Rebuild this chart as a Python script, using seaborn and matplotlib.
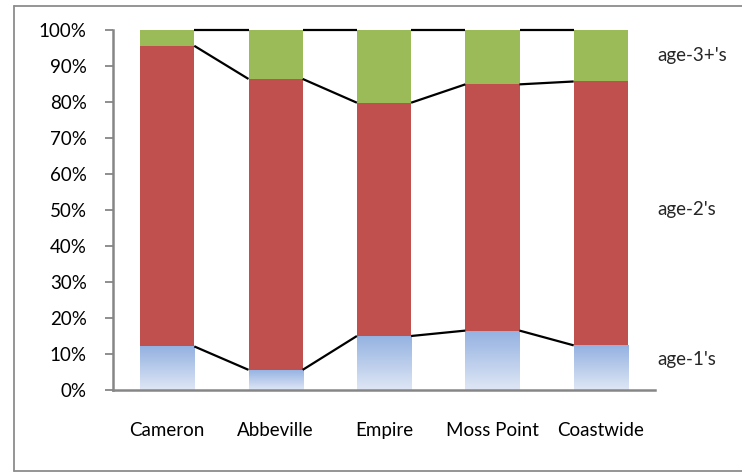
import numpy as np
import pandas as pd
import matplotlib
matplotlib.use("Agg")
import matplotlib.pyplot as plt
import seaborn as sns
from matplotlib.colors import LinearSegmentedColormap
from matplotlib.lines import Line2D

# ---- data (percent of catch by age class) ----
sites = ["Cameron", "Abbeville", "Empire", "Moss Point", "Coastwide"]
age1 = [12.1, 5.6, 15.0, 16.5, 12.4]
age2 = [83.5, 80.8, 64.8, 68.4, 73.3]
age3 = [4.4, 13.6, 20.2, 15.1, 14.3]
series_names = ["age-1's", "age-2's", "age-3+'s"]
yticks = list(range(0, 101, 10))

W, H = 742, 472
sns.set_style("white")
plt.rcParams["font.family"] = ["Lato", "DejaVu Sans"]
FS = 13.5

fig = plt.figure(figsize=(W / 100, H / 100), dpi=100)
ax = fig.add_axes([113 / W, 1 - 390 / H, (655 - 113) / W, (390 - 30) / H])

df = pd.DataFrame({"site": sites, "a1": age1, "a2": age2, "a3": age3})
df["c1"] = df["a1"]
df["c2"] = df["a1"] + df["a2"]
df["c3"] = df["c2"] + df["a3"]

green, red = "#9bbb59", "#c0504d"
kw = dict(saturation=1, width=0.5, ax=ax, edgecolor="none", linewidth=0)
sns.barplot(data=df, x="site", y="c3", color=green, **kw)
sns.barplot(data=df, x="site", y="c2", color=red, **kw)
sns.barplot(data=df, x="site", y="c1", color="#b8cbec", **kw)

n = len(sites)
patches = ax.patches
blue_bars = patches[2 * n:3 * n]

# vertical gradient for age-1 bars
cmap = LinearSegmentedColormap.from_list("g", ["#dfe7f5", "#93b1e1"])
grad = np.linspace(0, 1, 256).reshape(-1, 1)
for p in blue_bars:
    x0, y0 = p.get_x(), p.get_y()
    w, h = p.get_width(), p.get_height()
    p.set_facecolor("none")
    im = ax.imshow(grad, cmap=cmap, origin="lower", aspect="auto",
                   extent=[x0, x0 + w, y0, y0 + h], zorder=p.get_zorder())
    im.set_clip_path(p)

# series lines connecting stacked tops
bars0 = patches[0:n]
for col in ["c1", "c2", "c3"]:
    tops = df[col].values
    for i in range(n - 1):
        xa = bars0[i].get_x() + bars0[i].get_width()
        xb = bars0[i + 1].get_x()
        ax.plot([xa, xb], [tops[i], tops[i + 1]], color="black", lw=1.6,
                solid_capstyle="butt", zorder=5, clip_on=False)

ax.set_xlim(-0.5, n - 0.5)
ax.set_ylim(0, 100)
ax.set_yticks(yticks)
ax.set_yticklabels([f"{t}%" for t in yticks], fontsize=FS, color="black")
ax.set_xlabel("")
ax.set_ylabel("")
ax.tick_params(axis="x", length=0, pad=23, labelsize=FS, labelcolor="black")
ax.tick_params(axis="y", left=True, length=6, width=1.3, color="#868686", pad=13)
for s in ["top", "right"]:
    ax.spines[s].set_visible(False)
for s in ["left", "bottom"]:
    ax.spines[s].set_color("#868686")
    ax.spines[s].set_linewidth(1.8)
ax.grid(False)

# legend-like labels on the right
for name, ypx in zip(series_names, [360, 210, 55]):
    fig.text(657 / W, 1 - ypx / H, name, fontsize=FS, ha="left", va="center")

# outer chart frame (left, top, bottom edges)
fc = "#8c8c8c"
fig.add_artist(Line2D([14 / W, 14 / W], [1 - 6 / H, 1 - 471 / H], color=fc, lw=1.3, transform=fig.transFigure))
fig.add_artist(Line2D([14 / W, 1], [1 - 6 / H, 1 - 6 / H], color=fc, lw=1.3, transform=fig.transFigure))
fig.add_artist(Line2D([14 / W, 1], [1 - 471 / H, 1 - 471 / H], color=fc, lw=1.3, transform=fig.transFigure))

fig.savefig("out.png", dpi=100)
